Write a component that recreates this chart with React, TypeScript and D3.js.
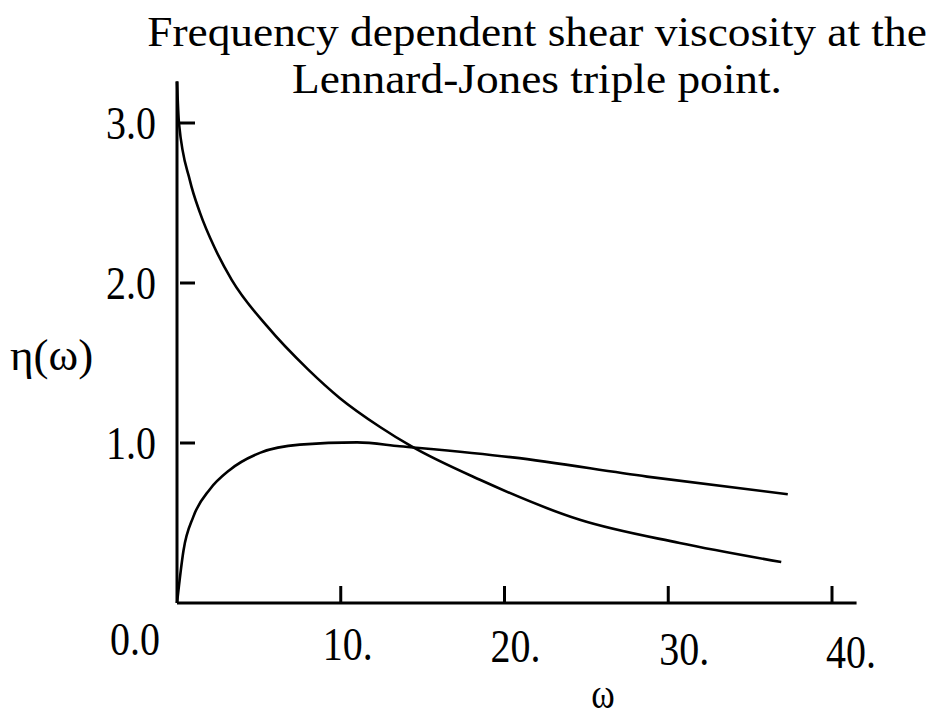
import React from "react";
import * as d3 from "d3";

const titleLines = ["Frequency dependent shear viscosity at the", "Lennard-Jones triple point."];
const xTicks = [10, 20, 30, 40];
const xTickLabels = ["10.", "20.", "30.", "40."];
const yTicks = [1, 2, 3];
const yTickLabels = ["1.0", "2.0", "3.0"];
const originLabel = "0.0";
const xLabel = "ω";
const yLabel = "η(ω)";

// decreasing curve (omega, eta)
const omegaA = [0, 0.12, 0.79, 1.4, 2.3, 3.34, 5.5, 8.0, 9.95, 12.4, 14.3, 18.5, 24.6, 30.7, 36.9];
const etaA = [3.26, 3.0, 2.64, 2.44, 2.22, 2.02, 1.73, 1.46, 1.28, 1.1, 0.98, 0.77, 0.52, 0.375, 0.256];
// rising curve
const omegaB = [0, 0.4, 1.0, 2.0, 3.2, 5.1, 7.5, 11.0, 13.6, 20.5, 28.7, 37.3];
const etaB = [0, 0.33, 0.54, 0.71, 0.83, 0.94, 0.99, 1.004, 0.98, 0.91, 0.79, 0.68];

const FONT = "'Liberation Serif', 'Times New Roman', serif";

function T({ x, y, children, size = 46, anchor = "start", sx = 0.85 }: any) {
  return (
    <g transform={`translate(${x},${y}) scale(${sx},1)`}>
      <text x={0} y={0} fontFamily={FONT} fontSize={size} textAnchor={anchor} fill="#000">
        {children}
      </text>
    </g>
  );
}

export default function App() {
  const W = 928, H = 720;
  const x = d3.scaleLinear().domain([0, 40]).range([177, 832]);
  const y = d3.scaleLinear().domain([0, 3]).range([603, 123]);
  const line = d3
    .line<[number, number]>()
    .x((d) => x(d[0]))
    .y((d) => y(d[1]))
    .curve(d3.curveMonotoneX);
  const dataA = omegaA.map((o, i) => [o, etaA[i]] as [number, number]);
  const dataB = omegaB.map((o, i) => [o, etaB[i]] as [number, number]);
  const xLabelDx = [7, 11, 16, 19];
  const xLabelBase = [660, 662, 665, 668];

  return (
    <svg width={W} height={H} style={{ position: "absolute", left: 0, top: 0, background: "#fff" }}>
      <rect width={W} height={H} fill="#fff" />
      <T x={537} y={46} anchor="middle" size={42} sx={1.08}>{titleLines[0]}</T>
      <T x={537} y={93} anchor="middle" size={42} sx={1.08}>{titleLines[1]}</T>

      {/* axes */}
      <line x1={x(0)} x2={x(0)} y1={y(3.26)} y2={y(0)} stroke="#000" strokeWidth={3} />
      <line x1={x(0)} x2={x(41.5)} y1={y(0)} y2={y(0)} stroke="#000" strokeWidth={3} />
      {yTicks.map((t) => (
        <line key={"yt" + t} x1={x(0) + 3} x2={x(0) + 18} y1={y(t)} y2={y(t)} stroke="#000" strokeWidth={3} />
      ))}
      {xTicks.map((t) => (
        <line key={"xt" + t} x1={x(t)} x2={x(t)} y1={y(0)} y2={y(0) - 17} stroke="#000" strokeWidth={3} />
      ))}
      {yTicks.map((t, i) => (
        <T key={"yl" + t} x={156} y={y(t) + 16} anchor="end" size={47}>{yTickLabels[i]}</T>
      ))}
      <T x={160} y={655} anchor="end" size={47}>{originLabel}</T>
      {xTicks.map((t, i) => (
        <T key={"xl" + t} x={x(t) + xLabelDx[i]} y={xLabelBase[i]} anchor="middle" size={47}>{xTickLabels[i]}</T>
      ))}
      <T x={603} y={708} anchor="middle" size={42}>{xLabel}</T>
      <T x={10} y={370} anchor="start" size={45} sx={1}>{yLabel}</T>

      <path d={line(dataA) || ""} fill="none" stroke="#000" strokeWidth={2.6} />
      <path d={line(dataB) || ""} fill="none" stroke="#000" strokeWidth={2.6} />
    </svg>
  );
}
